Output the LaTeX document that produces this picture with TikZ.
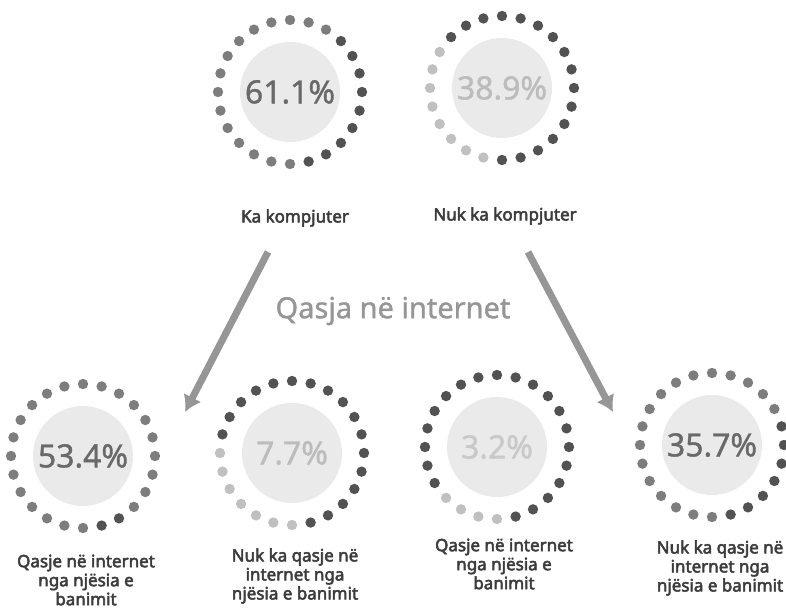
\documentclass[tikz,border=0pt]{standalone}
\usepackage{fontspec}
\setmainfont{Noto Sans}
\newfontfamily\labelfont[FakeBold=3]{Noto Sans}
\newfontfamily\pctfont[FakeBold=1.2]{Noto Sans}
\usetikzlibrary{arrows.meta}
\definecolor{Dotdark}{RGB}{82,82,82}
\definecolor{Dotmid}{RGB}{125,125,125}
\definecolor{Dotlight}{RGB}{192,192,192}
\definecolor{Disc}{RGB}{234,234,234}
\definecolor{Pctdark}{RGB}{105,105,105}
\definecolor{Pctlight}{RGB}{188,188,188}
\definecolor{Labeltext}{RGB}{60,60,60}
\definecolor{Arrowgray}{RGB}{150,150,150}

\begin{document}
\begin{tikzpicture}[x=1pt,y=-1pt,
        disc/.style={circle,fill=Disc,minimum size=100pt,inner sep=0pt,font=\pctfont\fontsize{32}{32}\selectfont},
        lbl/.style={font=\labelfont\fontsize{17}{19}\selectfont,align=center,text=Labeltext},
        bigarrow/.style={line width=7pt,draw=Arrowgray,-{Latex[length=16pt,width=20pt]}}]
            \useasboundingbox (0,0) rectangle (786,612);

            % top row
            \node[disc,text=Pctdark] (komp) at (290,92) {61.1\%};
            \node[disc,text=Pctlight] (jokomp) at (502,88) {38.9\%};
            \foreach \a in {-45,-30,...,75}{
                \fill[Dotdark] (komp.center) ++(\a:72) circle (5.2pt);
            }
            \foreach \a in {90,105,...,300}{
                \fill[Dotmid] (komp.center) ++(\a:72) circle (5.2pt);
            }
            \foreach \a in {-135,-120,...,90}{
                \fill[Dotdark] (jokomp.center) ++(\a:72) circle (5.2pt);
            }
            \foreach \a in {105,120,...,210}{
                \fill[Dotlight] (jokomp.center) ++(\a:72) circle (5.2pt);
            }
            \node[lbl] (kalbl) at (295,218) {Ka kompjuter};
            \node[lbl] (nuklbl) at (505,216) {Nuk ka kompjuter};

            % title and arrows
            \node[text=Arrowgray,font=\pctfont\fontsize{29}{29}\selectfont] (titulli) at (393,311) {Qasja në internet};
            \coordinate (a1s) at (268,252);
            \coordinate (a1e) at (185,412);
            \coordinate (a2s) at (528,252);
            \coordinate (a2e) at (613,412);
            \draw[bigarrow] (a1s) -- (a1e);
            \draw[bigarrow] (a2s) -- (a2e);

            % bottom row
            \node[disc,text=Pctdark] (qasja1) at (83,456) {53.4\%};
            \node[disc,text=Pctlight] (joqasja1) at (292,453) {7.7\%};
            \node[disc,text=Pctlight!80!white] (qasja2) at (497,447) {3.2\%};
            \node[disc,text=Pctdark] (joqasja2) at (712,445) {35.7\%};
            \foreach \a in {60,75}{
                \fill[Dotdark] (qasja1.center) ++(\a:72) circle (5.2pt);
            }
            \foreach \a in {90,105,...,405}{
                \fill[Dotmid] (qasja1.center) ++(\a:72) circle (5.2pt);
            }
            \foreach \a in {-165,-150,...,75}{
                \fill[Dotdark] (joqasja1.center) ++(\a:72) circle (5.2pt);
            }
            \foreach \a in {90,105,...,180}{
                \fill[Dotlight] (joqasja1.center) ++(\a:72) circle (5.2pt);
            }
            \foreach \a in {150,165,...,435}{
                \fill[Dotdark] (qasja2.center) ++(\a:72) circle (5.2pt);
            }
            \foreach \a in {90,105,...,135}{
                \fill[Dotlight] (qasja2.center) ++(\a:72) circle (5.2pt);
            }
            \foreach \a in {-15,0,...,75}{
                \fill[Dotdark] (joqasja2.center) ++(\a:72) circle (5.2pt);
            }
            \foreach \a in {90,105,...,330}{
                \fill[Dotmid] (joqasja2.center) ++(\a:72) circle (5.2pt);
            }
            \node[lbl] (qlbl1) at (86,580) {Qasje në internet\\nga njësia e\\banimit};
            \node[lbl] (nqlbl1) at (295,576) {Nuk ka qasje në\\internet nga\\njësia e banimit};
            \node[lbl] (qlbl2) at (504,564) {Qasje në internet\\nga njësia e\\banimit};
            \node[lbl] (nqlbl2) at (720,568) {Nuk ka qasje në\\internet nga\\njësia e banimit};
        \end{tikzpicture}
\end{document}
